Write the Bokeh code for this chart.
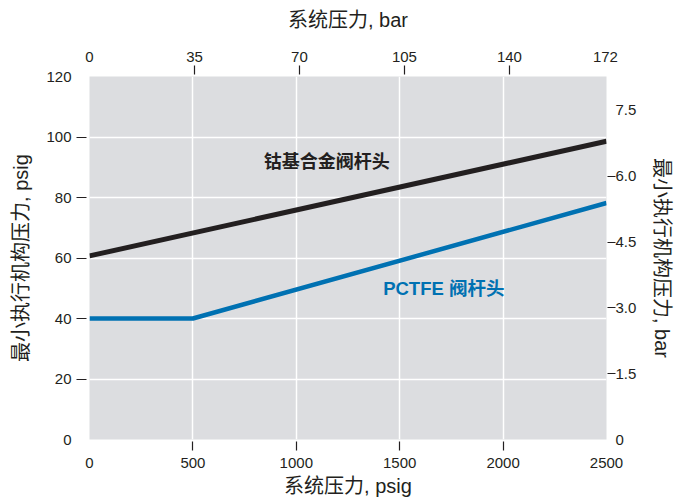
from bokeh.plotting import figure
from bokeh.models import Range1d, LinearAxis, FixedTicker, Label, NumeralTickFormatter
from bokeh.embed import file_html
from bokeh.resources import INLINE

# ---- data ----
PSI_PER_BAR = 14.5038
cobalt_x = [0, 2500]
cobalt_y = [60.7, 98.6]
pctfe_x = [0, 500, 2500]
pctfe_y = [40, 40, 78.2]

x_psig_ticks = [0, 500, 1000, 1500, 2000, 2500]
y_psig_ticks = [0, 20, 40, 60, 80, 100, 120]
x_bar_ticks = [0, 35, 70, 105, 140, 172]
y_bar_ticks = [0, 1.5, 3.0, 4.5, 6.0, 7.5]

title_bottom = "系统压力, psig"
title_top = "系统压力, bar"
title_left = "最小执行机构压力, psig"
title_right = "最小执行机构压力, bar"
label_cobalt = "钴基合金阀杆头"
label_pctfe = "PCTFE 阀杆头"

TEXT = "#231f20"
BLUE = "#0071b2"
FONT = "Liberation Sans, Noto Sans CJK SC"

p = figure(width=678, height=501, output_backend="svg", toolbar_location=None,
           x_range=Range1d(0, 2500), y_range=Range1d(0, 120),
           min_border_left=89, min_border_right=72, min_border_top=76, min_border_bottom=62)
p.extra_x_ranges = {"bar": Range1d(0, 2500 / PSI_PER_BAR)}
p.extra_y_ranges = {"bar": Range1d(0, 120 / PSI_PER_BAR)}

p.background_fill_color = "#dcdde0"
p.border_fill_color = "white"
p.outline_line_color = None

# grid
p.xgrid.ticker = FixedTicker(ticks=x_psig_ticks[1:-1])
p.ygrid.ticker = FixedTicker(ticks=y_psig_ticks[1:-1])
for g in (p.xgrid, p.ygrid):
    g.grid_line_color = "white"
    g.grid_line_width = 1.5
    g.grid_line_alpha = 1.0


def style(ax, ticks, tout, tin, standoff, lab_standoff):
    ax.ticker = FixedTicker(ticks=ticks, minor_ticks=ticks[1:-1])
    ax.axis_line_color = None
    ax.major_tick_line_color = None
    ax.major_tick_out = tout
    ax.major_tick_in = 0
    ax.minor_tick_line_color = TEXT
    ax.minor_tick_line_width = 1.2
    ax.minor_tick_out = tout
    ax.minor_tick_in = tin
    ax.major_label_standoff = standoff
    ax.major_label_text_font = FONT
    ax.major_label_text_font_size = "15px"
    ax.major_label_text_color = TEXT
    ax.axis_label_text_font = FONT
    ax.axis_label_text_font_size = "20px"
    ax.axis_label_text_font_style = "normal"
    ax.axis_label_text_color = TEXT
    ax.axis_label_standoff = lab_standoff


bottom = p.xaxis[0]
bottom.axis_label = title_bottom
style(bottom, x_psig_ticks, 11, -2, 7, 4)

left = p.yaxis[0]
left.axis_label = title_left
style(left, y_psig_ticks, 13, -3, 5, 11)

top = LinearAxis(x_range_name="bar", axis_label=title_top)
style(top, x_bar_ticks, 11, -2, 4, 18)
p.add_layout(top, "above")

right = LinearAxis(y_range_name="bar", axis_label=title_right)
style(right, y_bar_ticks, 9, -1, 0, 12)
right.formatter = NumeralTickFormatter(format="0.0")
right.major_label_overrides = {0: "0"}
p.add_layout(right, "right")

# lines
p.line(cobalt_x, cobalt_y, line_color=TEXT, line_width=5)
p.line(pctfe_x, pctfe_y, line_color=BLUE, line_width=4.5)

# labels
p.add_layout(Label(x=843, y=91.7, text=label_cobalt, text_font=FONT, text_font_size="18px",
                   text_font_style="bold", text_color=TEXT, text_baseline="middle", text_align="left"))
p.add_layout(Label(x=1420, y=50.0, text=label_pctfe, text_font=FONT, text_font_size="18.5px",
                   text_font_style="bold", text_color=BLUE, text_baseline="middle", text_align="left"))

open("out.html", "w").write(file_html(p, INLINE))
